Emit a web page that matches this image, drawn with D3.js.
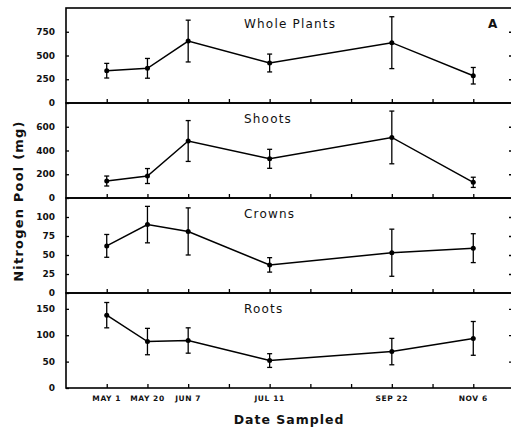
<!DOCTYPE html>
<html><head><meta charset="utf-8">
<script src="https://cdn.jsdelivr.net/npm/d3@7"></script>
<style>
html,body{margin:0;padding:0;background:#fff;}
svg{display:block;font-family:"DejaVu Sans",sans-serif;}
</style></head>
<body>
<svg id="chart" width="511" height="431"></svg>
<script>
// ---- data ----
const dateLabels = ["MAY 1","MAY 20","JUN 7","JUL 11","SEP 22","NOV 6"];
const dateSlots = [0,1,2,4,7,9];          // position on the sampling axis
const xTickSlots = [0,1,2,3,4,5,6,7,8,9];

const panelNames = ["Whole Plants","Shoots","Crowns","Roots"];
const wholeVals = [340,365,652,421,635,287];
const wholeErr  = [77,104,220,94,273,87];
const shootVals = [143,185,480,330,510,132];
const shootErr  = [42,63,172,80,222,43];
const crownVals = [62,90,81,37,53,59];
const crownErr  = [15,24,31,9.5,31,19];
const rootVals  = [138,88,90,52,69,94];
const rootErr   = [24,25,24,13,25,32];
const yMaxes = [1000,800,125,180];
const wholeTicks = [0,250,500,750];
const shootTicks = [0,200,400,600];
const crownTicks = [0,25,50,75,100];
const rootTicks  = [0,50,100,150];

const panels = [
  {name:panelNames[0], vals:wholeVals, err:wholeErr, ymax:yMaxes[0], ticks:wholeTicks},
  {name:panelNames[1], vals:shootVals, err:shootErr, ymax:yMaxes[1], ticks:shootTicks},
  {name:panelNames[2], vals:crownVals, err:crownErr, ymax:yMaxes[2], ticks:crownTicks},
  {name:panelNames[3], vals:rootVals,  err:rootErr,  ymax:yMaxes[3], ticks:rootTicks}
];

// ---- layout ----
const left = 66, right = 512, top0 = 8, ph = 95;
const svg = d3.select("#chart");
const x = d3.scaleLinear().domain([-1,10]).range([left, right+2]);

panels.forEach((p,i)=>{
  const t = top0 + i*ph, b = t + ph;
  const y = d3.scaleLinear().domain([0,p.ymax]).range([b,t]);
  const g = svg.append("g");

  // left axis (ticks inward)
  const la = g.append("g").attr("transform",`translate(${left},0)`)
    .call(d3.axisRight(y).tickValues(p.ticks).tickSize(3).tickFormat(""));
  la.select(".domain").remove();
  la.selectAll("line").attr("stroke","#000").attr("stroke-width",1.3);
  // tick labels
  g.selectAll("text.yl").data(p.ticks).join("text")
    .attr("x", left-11).attr("y", d=>y(d)).attr("dy","0.35em")
    .attr("text-anchor","end").attr("font-size","9px").attr("font-weight","bold")
    .attr("fill","#111").text(d=>d);
  // right axis ticks (inward)
  const ra = g.append("g").attr("transform",`translate(${right},0)`)
    .call(d3.axisLeft(y).tickValues(p.ticks.filter(v=>v>0)).tickSize(3).tickFormat(""));
  ra.select(".domain").remove();
  ra.selectAll("line").attr("stroke","#000").attr("stroke-width",1.3);
  // bottom ticks (inward)
  const ba = g.append("g").attr("transform",`translate(0,${b})`)
    .call(d3.axisTop(x).tickValues(xTickSlots).tickSize(4).tickFormat(""));
  ba.select(".domain").remove();
  ba.selectAll("line").attr("stroke","#000").attr("stroke-width",1.3);

  // frame
  g.append("rect").attr("x",left).attr("y",t).attr("width",right-left).attr("height",ph)
    .attr("fill","none").attr("stroke","#000").attr("stroke-width",1.6);

  // title
  g.append("text").attr("x",244).attr("y",t+20).attr("font-size","12px")
    .attr("letter-spacing","1.2px").attr("fill","#111").text(p.name);

  const pts = p.vals.map((v,k)=>({x:x(dateSlots[k]), v, e:p.err[k]}));
  // error bars
  const eb = g.append("g").attr("stroke","#000").attr("stroke-width",1.3);
  pts.forEach(d=>{
    eb.append("line").attr("x1",d.x).attr("x2",d.x).attr("y1",y(d.v+d.e)).attr("y2",y(d.v-d.e));
    eb.append("line").attr("x1",d.x-2.5).attr("x2",d.x+2.5).attr("y1",y(d.v+d.e)).attr("y2",y(d.v+d.e));
    eb.append("line").attr("x1",d.x-2.5).attr("x2",d.x+2.5).attr("y1",y(d.v-d.e)).attr("y2",y(d.v-d.e));
  });
  // line
  g.append("path").datum(pts)
    .attr("d", d3.line().x(d=>d.x).y(d=>y(d.v)))
    .attr("fill","none").attr("stroke","#000").attr("stroke-width",1.5);
  g.selectAll("circle").data(pts).join("circle")
    .attr("cx",d=>d.x).attr("cy",d=>y(d.v)).attr("r",2.5).attr("fill","#000");

  if(i===0){
    g.append("text").attr("x",488).attr("y",t+20).attr("font-size","12px")
      .attr("font-weight","bold").attr("fill","#111").text("A");
  }
});

// x tick labels
const bottom = top0 + 4*ph;
svg.selectAll("text.xl").data(dateLabels).join("text")
  .attr("x",(d,k)=>x(dateSlots[k])).attr("y",bottom+13)
  .attr("text-anchor","middle").attr("font-size","7.5px").attr("font-weight","bold")
  .attr("letter-spacing","0.6px").attr("fill","#111").text(d=>d);

// axis titles
svg.append("text").attr("x",(left+right)/2).attr("y",bottom+36)
  .attr("text-anchor","middle").attr("font-size","12.5px").attr("font-weight","bold")
  .attr("letter-spacing","1px").attr("fill","#111").text("Date Sampled");
svg.append("text").attr("transform",`translate(23,${top0+2*ph+3}) rotate(-90)`)
  .attr("text-anchor","middle").attr("font-size","13px").attr("font-weight","bold")
  .attr("letter-spacing","1.2px").attr("fill","#111").text("Nitrogen Pool (mg)");
</script>
</body></html>
